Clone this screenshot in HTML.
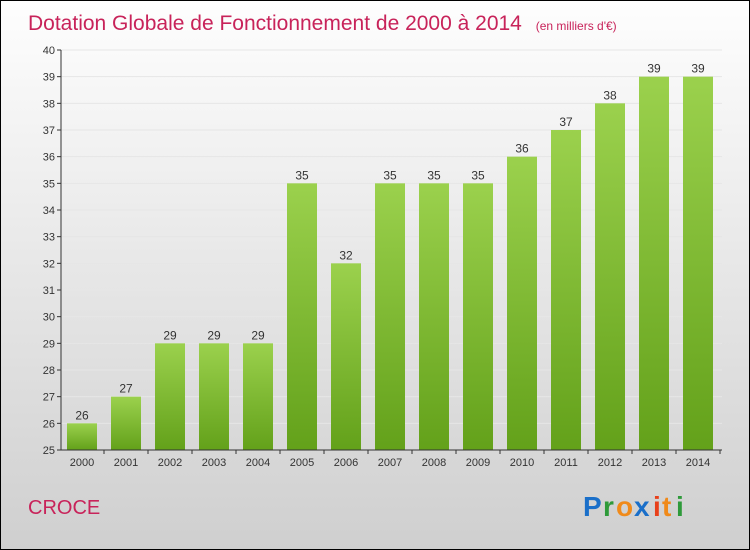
<!DOCTYPE html>
<html><head><meta charset="utf-8"><style>
body{margin:0}
svg{display:block;font-family:"Liberation Sans",sans-serif}
</style></head><body>
<svg width="750" height="550" xmlns="http://www.w3.org/2000/svg">
<defs>
<linearGradient id="bg" x1="0" y1="0" x2="0" y2="1"><stop offset="0" stop-color="#fefefe"/><stop offset="1" stop-color="#cfcfcf"/></linearGradient>
<linearGradient id="bar" x1="0" y1="0" x2="0" y2="1"><stop offset="0" stop-color="#9bd14d"/><stop offset="1" stop-color="#63a11a"/></linearGradient>
</defs>
<rect x="0.5" y="0.5" width="749" height="549" fill="url(#bg)" stroke="#000"/>
<text x="28" y="30" font-size="21" fill="#c8235a">Dotation Globale de Fonctionnement de 2000 à 2014 <tspan font-size="12" dx="8">(en milliers d'€)</tspan></text>
<g id="grid"></g>
<g id="bars"></g>
<g id="axes"></g>
<text x="28" y="514" font-size="20" fill="#c8235a">CROCE</text>
<g font-size="28" font-weight="bold">
<text x="583" y="516" fill="#1a6fc9">P</text><text x="603" y="516" fill="#2e9a3a">r</text><text x="616" y="516" fill="#f08a1a">o</text><text x="634" y="516" fill="#1a6fc9">x</text><text x="653" y="516" fill="#e8401a">i</text><text x="662" y="516" fill="#f08a1a">t</text><text x="676" y="516" fill="#2e9a3a">i</text>
</g>
</svg>
<script>
const years=["2000","2001","2002","2003","2004","2005","2006","2007","2008","2009","2010","2011","2012","2013","2014"];
const values=[26,27,29,29,29,35,32,35,35,35,36,37,38,39,39];
const yTicks=[25,26,27,28,29,30,31,32,33,34,35,36,37,38,39,40];
const NS="http://www.w3.org/2000/svg";
const y0=450,y1=50,vmin=25,vmax=40,x0=61,step=44,first=82,bw=30;
const ys=v=>y0-(v-vmin)/(vmax-vmin)*(y0-y1);
const xs=i=>first+i*step;
function mk(t,a,p){const e=document.createElementNS(NS,t);for(const k in a)e.setAttribute(k,a[k]);p.appendChild(e);return e;}
const grid=document.getElementById('grid'),bars=document.getElementById('bars'),axes=document.getElementById('axes');
yTicks.forEach(v=>{
 const l=mk('line',{x1:x0,x2:722,y1:ys(v),y2:ys(v),stroke:'#e6e6e6'},grid);
 
 
 const t=mk('line',{x1:x0-4,x2:x0,y1:ys(v),y2:ys(v),stroke:'#333'},axes);
 
 
 const tx=mk('text',{x:x0-6,y:ys(v)+4,'text-anchor':'end','font-size':11,fill:'#333'},axes);
 tx.textContent=v;
 
 
});
values.forEach((v,i)=>{
 const r=mk('rect',{x:xs(i)-bw/2,y:ys(v),width:bw,height:y0-ys(v),fill:'url(#bar)'},bars);
 
 
 const lt=mk('text',{x:xs(i),y:ys(v)-4,'text-anchor':'middle','font-size':12,fill:'#333'},bars);
 lt.textContent=v;
 
 
 const xt=mk('text',{x:xs(i),y:466,'text-anchor':'middle','font-size':11,fill:'#333'},axes);
 xt.textContent=years[i];
 
 
 const tk=mk('line',{x1:xs(i)+step/2,x2:xs(i)+step/2,y1:y0,y2:y0+4,stroke:'#333'},axes);
 
 
});
const ya=mk('line',{x1:x0,x2:x0,y1:y1,y2:y0,stroke:'#333'},axes);


const xa=mk('line',{x1:x0,x2:722,y1:y0,y2:y0,stroke:'#333'},axes);


</script>
</body></html>
